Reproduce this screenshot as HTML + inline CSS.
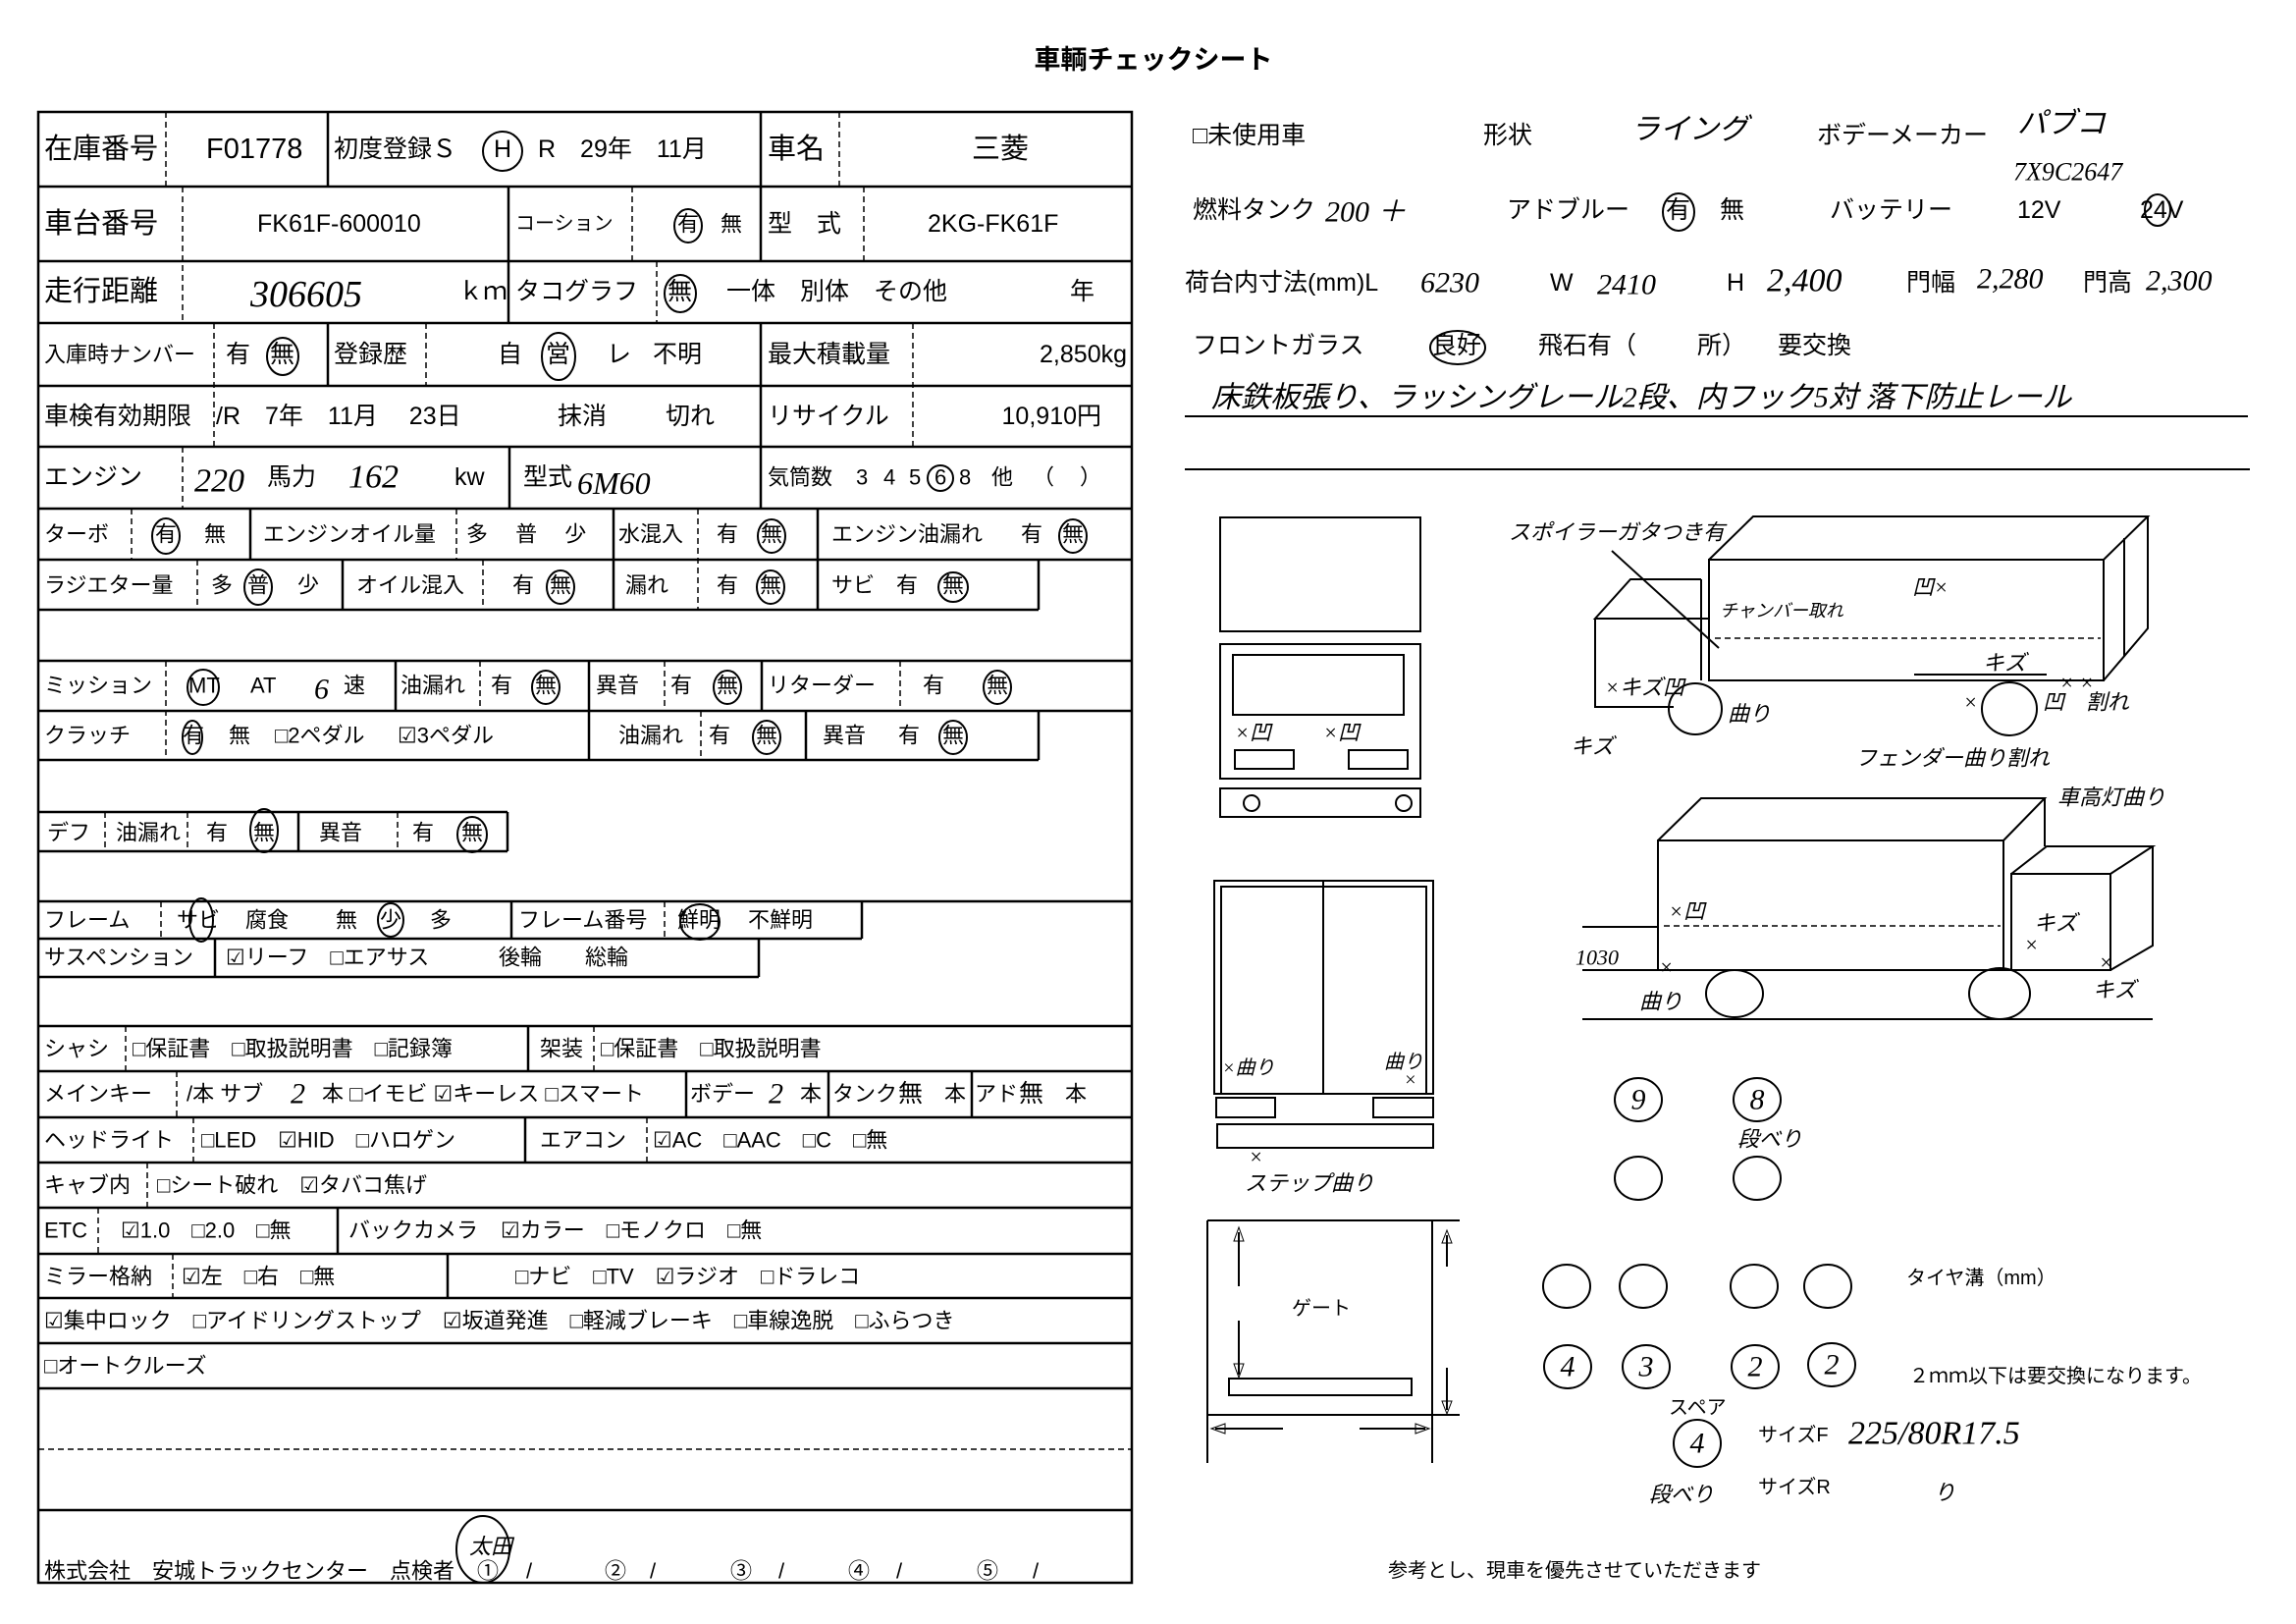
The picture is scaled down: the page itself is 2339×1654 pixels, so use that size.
<!DOCTYPE html>
<html><head><meta charset="utf-8"><style>
html,body{margin:0;padding:0;background:#fff;}
svg{display:block}
text{font-family:"Liberation Sans","Noto Sans CJK JP",sans-serif;font-size:22px;dominant-baseline:central;fill:#000}
.b{font-size:29px}.m{font-size:25px}.s{font-size:20px}
.h{font-family:"Liberation Serif","Noto Sans CJK JP",serif;font-style:italic;font-size:30px}
.hs{font-family:"Liberation Serif","Noto Sans CJK JP",serif;font-style:italic;font-size:22px}
.t{font-weight:bold;font-size:27px}
line,rect,polyline,polygon,circle,ellipse,path{stroke:#000;fill:none}
.L{stroke-width:2.5}.d{stroke-width:1.5;stroke-dasharray:6 4}.c{stroke-width:2}
</style></head><body>
<svg width="2339" height="1654" viewBox="0 0 2339 1654" xmlns="http://www.w3.org/2000/svg">
<text x="1175" y="61" class="t" text-anchor="middle">車輌チェックシート</text>

<rect x="39" y="114" width="1114" height="1498" class="L"/>
<g class="L">
<line x1="39" y1="190" x2="1153" y2="190"/>
<line x1="39" y1="266" x2="1153" y2="266"/>
<line x1="39" y1="329" x2="1153" y2="329"/>
<line x1="39" y1="393" x2="1153" y2="393"/>
<line x1="39" y1="455" x2="1153" y2="455"/>
<line x1="39" y1="518" x2="1153" y2="518"/>
<line x1="39" y1="570" x2="1153" y2="570"/>
<line x1="39" y1="621" x2="1058" y2="621"/>
<line x1="1058" y1="570" x2="1058" y2="621"/>
<line x1="39" y1="673" x2="1153" y2="673"/>
<line x1="39" y1="724" x2="1153" y2="724"/>
<line x1="39" y1="774" x2="1058" y2="774"/>
<line x1="1058" y1="724" x2="1058" y2="774"/>
<line x1="39" y1="827" x2="517" y2="827"/>
<line x1="39" y1="867" x2="517" y2="867"/>
<line x1="517" y1="827" x2="517" y2="867"/>
<line x1="39" y1="918" x2="1153" y2="918"/>
<line x1="39" y1="956" x2="878" y2="956"/>
<line x1="878" y1="918" x2="878" y2="956"/>
<line x1="39" y1="995" x2="773" y2="995"/>
<line x1="773" y1="956" x2="773" y2="995"/>
<line x1="39" y1="1045" x2="1153" y2="1045"/>
<line x1="39" y1="1091" x2="1153" y2="1091"/>
<line x1="39" y1="1138" x2="1153" y2="1138"/>
<line x1="39" y1="1184" x2="1153" y2="1184"/>
<line x1="39" y1="1230" x2="1153" y2="1230"/>
<line x1="39" y1="1277" x2="1153" y2="1277"/>
<line x1="39" y1="1322" x2="1153" y2="1322"/>
<line x1="39" y1="1368" x2="1153" y2="1368"/>
<line x1="39" y1="1414" x2="1153" y2="1414"/>
<line x1="39" y1="1538" x2="1153" y2="1538"/>
</g>
<line x1="39" y1="1476" x2="1153" y2="1476" class="d"/>
<g class="L">
<line x1="334" y1="114" x2="334" y2="190"/><line x1="775" y1="114" x2="775" y2="190"/>
<line x1="518" y1="190" x2="518" y2="329"/><line x1="775" y1="190" x2="775" y2="266"/>
<line x1="334" y1="329" x2="334" y2="393"/><line x1="775" y1="329" x2="775" y2="518"/>
<line x1="519" y1="455" x2="519" y2="518"/>
<line x1="255" y1="518" x2="255" y2="570"/><line x1="625" y1="518" x2="625" y2="621"/><line x1="833" y1="518" x2="833" y2="621"/>
<line x1="349" y1="570" x2="349" y2="621"/>
<line x1="403" y1="673" x2="403" y2="724"/><line x1="600" y1="673" x2="600" y2="774"/><line x1="776" y1="673" x2="776" y2="724"/>
<line x1="821" y1="724" x2="821" y2="774"/>
<line x1="304" y1="827" x2="304" y2="867"/>
<line x1="521" y1="918" x2="521" y2="956"/><line x1="219" y1="956" x2="219" y2="995"/>
<line x1="538" y1="1045" x2="538" y2="1091"/>
<line x1="699" y1="1091" x2="699" y2="1138"/><line x1="844" y1="1091" x2="844" y2="1138"/><line x1="990" y1="1091" x2="990" y2="1138"/>
<line x1="535" y1="1138" x2="535" y2="1184"/>
<line x1="344" y1="1230" x2="344" y2="1277"/><line x1="456" y1="1277" x2="456" y2="1322"/>
</g>
<g class="d">
<line x1="169" y1="114" x2="169" y2="190"/><line x1="855" y1="114" x2="855" y2="190"/>
<line x1="186" y1="190" x2="186" y2="329"/><line x1="644" y1="190" x2="644" y2="266"/><line x1="880" y1="190" x2="880" y2="266"/>
<line x1="669" y1="266" x2="669" y2="329"/>
<line x1="218" y1="329" x2="218" y2="455"/><line x1="434" y1="329" x2="434" y2="393"/><line x1="930" y1="329" x2="930" y2="455"/>
<line x1="186" y1="455" x2="186" y2="518"/>
<line x1="134" y1="518" x2="134" y2="570"/><line x1="465" y1="518" x2="465" y2="570"/><line x1="711" y1="518" x2="711" y2="621"/>
<line x1="201" y1="570" x2="201" y2="621"/><line x1="492" y1="570" x2="492" y2="621"/>
<line x1="169" y1="673" x2="169" y2="774"/><line x1="489" y1="673" x2="489" y2="724"/><line x1="677" y1="673" x2="677" y2="724"/><line x1="917" y1="673" x2="917" y2="724"/>
<line x1="714" y1="724" x2="714" y2="774"/>
<line x1="107" y1="827" x2="107" y2="867"/><line x1="191" y1="827" x2="191" y2="867"/><line x1="405" y1="827" x2="405" y2="867"/>
<line x1="164" y1="918" x2="164" y2="956"/><line x1="677" y1="918" x2="677" y2="956"/>
<line x1="128" y1="1045" x2="128" y2="1091"/><line x1="605" y1="1045" x2="605" y2="1091"/>
<line x1="180" y1="1091" x2="180" y2="1138"/>
<line x1="197" y1="1138" x2="197" y2="1184"/><line x1="659" y1="1138" x2="659" y2="1184"/>
<line x1="150" y1="1184" x2="150" y2="1230"/>
<line x1="100" y1="1230" x2="100" y2="1277"/>
<line x1="176" y1="1277" x2="176" y2="1322"/>
</g>

<text x="45" y="152" class="b">在庫番号</text>
<text x="210" y="152" class="b">F01778</text>
<text x="340" y="152" class="m">初度登録Ｓ</text>
<circle cx="512" cy="154" r="20" class="c"/><text x="512" y="152" class="m" text-anchor="middle">H</text>
<text x="548" y="152" class="m">R　29年　11月</text>
<text x="782" y="152" class="b">車名</text>
<text x="990" y="152" class="b">三菱</text>
<text x="45" y="228" class="b">車台番号</text>
<text x="262" y="228" class="m">FK61F-600010</text>
<text x="525" y="228" class="s">コーション</text>
<text x="690" y="228">有</text><ellipse cx="701" cy="230" rx="14" ry="17" class="c"/>
<text x="734" y="228">無</text>
<text x="782" y="228" class="m">型　式</text>
<text x="945" y="228" class="m">2KG-FK61F</text>
<text x="45" y="297" class="b">走行距離</text>
<text x="255" y="300" class="h" style="font-size:38px">306605</text>
<text x="467" y="297" class="m">ｋｍ</text>
<text x="525" y="297" class="m">タコグラフ</text>
<text x="680" y="297" class="m">無</text><ellipse cx="693" cy="299" rx="16" ry="19" class="c"/>
<text x="740" y="297" class="m">一体　別体　その他</text>
<text x="1090" y="297" class="m">年</text>
<text x="45" y="361">入庫時ナンバー</text>
<text x="230" y="361" class="m">有</text>
<text x="275" y="361" class="m">無</text><ellipse cx="288" cy="363" rx="16" ry="19" class="c"/>
<text x="340" y="361" class="m">登録歴</text>
<text x="507" y="361" class="m">自</text>
<text x="556" y="361" class="m">営</text><ellipse cx="569" cy="363" rx="17" ry="24" class="c"/>
<text x="618" y="361" class="m">レ</text>
<text x="665" y="361" class="m">不明</text>
<text x="782" y="361" class="m">最大積載量</text>
<text x="1148" y="361" class="m" text-anchor="end">2,850kg</text>
<text x="45" y="424" class="m">車検有効期限</text>
<text x="220" y="424" class="m">/R　7年　11月　 23日</text>
<text x="568" y="424" class="m">抹消</text>
<text x="678" y="424" class="m">切れ</text>
<text x="782" y="424" class="m">リサイクル</text>
<text x="1122" y="424" class="m" text-anchor="end">10,910円</text>
<text x="45" y="486" class="m">エンジン</text>
<text x="198" y="490" class="h" style="font-size:34px">220</text>
<text x="272" y="486" class="m">馬力</text>
<text x="355" y="486" class="h" style="font-size:34px">162</text>
<text x="463" y="486" class="m">kw</text>
<text x="533" y="486" class="m">型式</text>
<text x="588" y="492" class="h" style="font-size:32px">6M60</text>
<text x="782" y="486">気筒数</text>
<text x="872" y="486">3</text><text x="900" y="486">4</text><text x="926" y="486">5</text>
<text x="952" y="486">6</text><circle cx="958" cy="487" r="13" class="c"/>
<text x="977" y="486">8</text><text x="1010" y="486">他</text>
<text x="1052" y="486">（</text><text x="1100" y="486">）</text>
<text x="45" y="544">ターボ</text>
<text x="158" y="544">有</text><ellipse cx="169" cy="546" rx="14" ry="18" class="c"/>
<text x="208" y="544">無</text>
<text x="268" y="544">エンジンオイル量</text>
<text x="475" y="544">多　 普　 少</text>
<text x="630" y="544">水混入</text>
<text x="730" y="544">有</text>
<text x="775" y="544">無</text><ellipse cx="786" cy="546" rx="14" ry="17" class="c"/>
<text x="847" y="544">エンジン油漏れ</text>
<text x="1040" y="544">有</text>
<text x="1082" y="544">無</text><ellipse cx="1093" cy="546" rx="14" ry="17" class="c"/>
<text x="45" y="596">ラジエター量</text>
<text x="215" y="596">多</text>
<text x="252" y="596">普</text><ellipse cx="263" cy="598" rx="14" ry="18" class="c"/>
<text x="303" y="596">少</text>
<text x="363" y="596">オイル混入</text>
<text x="522" y="596">有</text>
<text x="560" y="596">無</text><ellipse cx="571" cy="598" rx="14" ry="17" class="c"/>
<text x="637" y="596">漏れ</text>
<text x="730" y="596">有</text>
<text x="774" y="596">無</text><ellipse cx="785" cy="598" rx="14" ry="17" class="c"/>
<text x="847" y="596">サビ</text>
<text x="913" y="596">有</text>
<text x="960" y="596">無</text><ellipse cx="971" cy="598" rx="15" ry="15" class="c"/>
<text x="45" y="698">ミッション</text>
<text x="192" y="698">MT</text><ellipse cx="207" cy="700" rx="16" ry="18" class="c"/>
<text x="255" y="698">AT</text>
<text x="320" y="702" class="h">6</text>
<text x="350" y="698">速</text>
<text x="408" y="698">油漏れ</text>
<text x="500" y="698">有</text>
<text x="545" y="698">無</text><ellipse cx="556" cy="700" rx="14" ry="17" class="c"/>
<text x="607" y="698">異音</text>
<text x="683" y="698">有</text>
<text x="730" y="698">無</text><ellipse cx="741" cy="700" rx="14" ry="17" class="c"/>
<text x="782" y="698">リターダー</text>
<text x="940" y="698">有</text>
<text x="1005" y="698">無</text><ellipse cx="1016" cy="700" rx="14" ry="17" class="c"/>
<text x="45" y="749">クラッチ</text>
<text x="186" y="749">有</text><ellipse cx="196" cy="751" rx="10" ry="17" class="c"/>
<text x="233" y="749">無</text>
<text x="280" y="749">□2ペダル</text>
<text x="405" y="749">☑3ペダル</text>
<text x="630" y="749">油漏れ</text>
<text x="722" y="749">有</text>
<text x="770" y="749">無</text><ellipse cx="781" cy="751" rx="14" ry="17" class="c"/>
<text x="838" y="749">異音</text>
<text x="915" y="749">有</text>
<text x="960" y="749">無</text><ellipse cx="971" cy="751" rx="14" ry="17" class="c"/>
<text x="48" y="848">デフ</text>
<text x="118" y="848">油漏れ</text>
<text x="210" y="848">有</text>
<text x="258" y="848">無</text><ellipse cx="269" cy="846" rx="14" ry="22" class="c"/>
<text x="325" y="848">異音</text>
<text x="420" y="848">有</text>
<text x="470" y="848">無</text><ellipse cx="481" cy="850" rx="15" ry="18" class="c"/>
<text x="45" y="937">フレーム</text>
<text x="180" y="937">サビ</text><ellipse cx="205" cy="937" rx="12" ry="22" class="c"/>
<text x="250" y="937">腐食</text>
<text x="342" y="937">無</text>
<text x="387" y="937">少</text><ellipse cx="398" cy="937" rx="13" ry="17" class="c"/>
<text x="438" y="937">多</text>
<text x="528" y="937">フレーム番号</text>
<text x="690" y="937">鮮明</text><ellipse cx="713" cy="939" rx="20" ry="18" class="c"/>
<text x="762" y="937">不鮮明</text>
<text x="45" y="975">サスペンション</text>
<text x="230" y="975">☑リーフ　□エアサス</text>
<text x="508" y="975">後輪　　総輪</text>
<text x="45" y="1068">シャシ</text>
<text x="135" y="1068">□保証書　□取扱説明書　□記録簿</text>
<text x="550" y="1068">架装</text>
<text x="612" y="1068">□保証書　□取扱説明書</text>
<text x="45" y="1114">メインキー</text>
<text x="190" y="1114">/本 サブ</text>
<text x="296" y="1114" class="h">2</text>
<text x="328" y="1114">本 □イモビ ☑キーレス □スマート</text>
<text x="703" y="1114">ボデー</text>
<text x="783" y="1114" class="h">2</text>
<text x="815" y="1114">本</text>
<text x="848" y="1114">タンク</text>
<text x="915" y="1114" class="m">無</text>
<text x="962" y="1114">本</text>
<text x="993" y="1114">アド</text>
<text x="1038" y="1114" class="m">無</text>
<text x="1085" y="1114">本</text>
<text x="45" y="1161">ヘッドライト</text>
<text x="205" y="1161">□LED　☑HID　□ハロゲン</text>
<text x="550" y="1161">エアコン</text>
<text x="665" y="1161">☑AC　□AAC　□C　□無</text>
<text x="45" y="1207">キャブ内</text>
<text x="160" y="1207">□シート破れ　☑タバコ焦げ</text>
<text x="45" y="1253">ETC</text>
<text x="123" y="1253">☑1.0　□2.0　□無</text>
<text x="355" y="1253">バックカメラ</text>
<text x="510" y="1253">☑カラー　□モノクロ　□無</text>
<text x="45" y="1300">ミラー格納</text>
<text x="185" y="1300">☑左　□右　□無</text>
<text x="525" y="1300">□ナビ　□TV　☑ラジオ　□ドラレコ</text>
<text x="45" y="1345">☑集中ロック　□アイドリングストップ　☑坂道発進　□軽減ブレーキ　□車線逸脱　□ふらつき</text>
<text x="45" y="1391">□オートクルーズ</text>
<text x="45" y="1600">株式会社　安城トラックセンター　点検者</text>
<text x="486" y="1600">①</text><text x="536" y="1600">/</text>
<text x="616" y="1600">②</text><text x="662" y="1600">/</text>
<text x="744" y="1600">③</text><text x="793" y="1600">/</text>
<text x="864" y="1600">④</text><text x="913" y="1600">/</text>
<text x="995" y="1600">⑤</text><text x="1052" y="1600">/</text>
<ellipse cx="492" cy="1578" rx="27" ry="34" class="c"/>
<text x="478" y="1575" class="hs">太田</text>

<text x="1215" y="138" class="m">□未使用車</text>
<text x="1511" y="138" class="m">形状</text>
<text x="1661" y="132" class="h">ライング</text>
<text x="1851" y="138" class="m">ボデーメーカー</text>
<text x="2055" y="126" class="h">パブコ</text>
<text x="2051" y="175" class="h" style="font-size:26px">7X9C2647</text>
<text x="1215" y="214" class="m">燃料タンク</text>
<text x="1350" y="216" class="h">200 ＋</text>
<text x="1535" y="214" class="m">アドブルー</text>
<text x="1697" y="214" class="m">有</text><ellipse cx="1710" cy="216" rx="16" ry="19" class="c"/>
<text x="1752" y="214" class="m">無</text>
<text x="1864" y="214" class="m">バッテリー</text>
<text x="2055" y="214" class="m">12V</text>
<text x="2180" y="214" class="m">24V</text><ellipse cx="2198" cy="214" rx="13" ry="16" class="c"/>
<text x="1207" y="288" class="m">荷台内寸法(mm)L</text>
<text x="1447" y="288" class="h">6230</text>
<text x="1579" y="288" class="m">W</text>
<text x="1627" y="290" class="h">2410</text>
<text x="1759" y="288" class="m">H</text>
<text x="1800" y="286" class="h" style="font-size:34px">2,400</text>
<text x="1942" y="288" class="m">門幅</text>
<text x="2014" y="284" class="h">2,280</text>
<text x="2122" y="288" class="m">門高</text>
<text x="2186" y="286" class="h">2,300</text>
<text x="1215" y="352" class="m">フロントガラス</text>
<text x="1459" y="352" class="m">良好</text><ellipse cx="1485" cy="354" rx="28" ry="17" class="c"/>
<text x="1567" y="352" class="m">飛石有（</text>
<text x="1729" y="352" class="m">所）</text>
<text x="1811" y="352" class="m">要交換</text>
<text x="1234" y="405" class="h" style="font-size:30px">床鉄板張り、ラッシングレール2段、内フック5対 落下防止レール</text>
<line x1="1207" y1="424" x2="2290" y2="424" class="c"/>
<line x1="1207" y1="478" x2="2292" y2="478" class="c"/>

<g class="c">
<rect x="1243" y="527" width="204" height="116"/>
<rect x="1243" y="656" width="204" height="137"/>
<rect x="1256" y="667" width="174" height="61"/>
<rect x="1258" y="764" width="60" height="19"/>
<rect x="1374" y="764" width="60" height="19"/>
<rect x="1243" y="803" width="204" height="29"/>
<circle cx="1275" cy="818" r="8"/><circle cx="1430" cy="818" r="8"/>
</g>
<text x="1258" y="746" class="hs">×凹</text>
<text x="1348" y="746" class="hs">×凹</text>

<g class="c">
<polygon points="1741,570 2143,570 2143,693 1741,693"/>
<polyline points="1741,570 1786,526 2188,526 2143,570"/>
<polyline points="2188,526 2188,640 2143,693"/>
<line x1="2164" y1="548" x2="2164" y2="668"/>
<polyline points="1733,590 1661,590 1625,630 1741,630"/>
<polyline points="1625,630 1625,720 1705,720"/>
<line x1="1733" y1="590" x2="1733" y2="693"/>
<ellipse cx="1727" cy="722" rx="27" ry="26"/>
<ellipse cx="2047" cy="722" rx="28" ry="27"/>
<line x1="1642" y1="561" x2="1751" y2="660"/>
<line x1="1950" y1="687" x2="2085" y2="687"/>
</g>
<line x1="1747" y1="650" x2="2140" y2="650" class="d"/>
<text x="1537" y="542" class="hs">スポイラーガタつき有</text>
<text x="1752" y="622" class="hs" style="font-size:18px">チャンバー取れ</text>
<text x="1948" y="598" class="hs">凹×</text>
<text x="2020" y="675" class="hs">キズ</text>
<text x="2098" y="695" class="hs">× ×</text>
<text x="1635" y="700" class="hs">×キズ凹</text>
<text x="1760" y="727" class="hs">曲り</text>
<text x="1600" y="760" class="hs">キズ</text>
<text x="2000" y="715" class="hs">×　　　凹　割れ</text>
<text x="1890" y="772" class="hs">フェンダー曲り割れ</text>
<text x="2096" y="812" class="hs">車高灯曲り</text>

<g class="c">
<rect x="1689" y="856" width="352" height="132"/>
<polyline points="1689,856 1733,813 2083,813 2041,856"/>
<line x1="2083" y1="813" x2="2083" y2="862"/>
<rect x="2049" y="890" width="101" height="98"/>
<polyline points="2049,890 2085,862 2193,862 2150,890"/>
<polyline points="2193,862 2193,963 2150,988"/>
<line x1="1612" y1="944" x2="1689" y2="944"/>
<line x1="1612" y1="988" x2="2150" y2="988"/>
<line x1="1612" y1="1038" x2="2193" y2="1038"/>
<ellipse cx="1767" cy="1012" rx="29" ry="24"/>
<ellipse cx="2037" cy="1012" rx="31" ry="26"/>
</g>
<line x1="1695" y1="943" x2="2038" y2="943" class="d"/>
<text x="1700" y="928" class="hs">×凹</text>
<text x="1605" y="975" class="hs">1030</text>
<text x="1690" y="985" class="hs">×</text>
<text x="1670" y="1020" class="hs">曲り</text>
<text x="2072" y="940" class="hs">キズ</text>
<text x="2062" y="962" class="hs">×</text>
<text x="2138" y="980" class="hs">×</text>
<text x="2132" y="1008" class="hs">キズ</text>

<g class="c">
<rect x="1237" y="897" width="223" height="217"/>
<rect x="1244" y="903" width="209" height="211"/>
<line x1="1348" y1="897" x2="1348" y2="1114"/>
<rect x="1239" y="1118" width="60" height="20"/>
<rect x="1399" y="1118" width="61" height="20"/>
<rect x="1240" y="1145" width="220" height="24"/>
</g>
<text x="1245" y="1088" class="hs" style="font-size:20px">×曲り</text>
<text x="1410" y="1082" class="hs" style="font-size:20px">曲り</text>
<text x="1430" y="1100" class="hs" style="font-size:20px">×</text>
<text x="1272" y="1178" class="hs">×</text>
<text x="1268" y="1205" class="hs">ステップ曲り</text>

<g class="c">
<line x1="1230" y1="1243" x2="1487" y2="1243"/>
<line x1="1230" y1="1243" x2="1230" y2="1490"/>
<line x1="1459" y1="1243" x2="1459" y2="1490"/>
<line x1="1230" y1="1441" x2="1487" y2="1441"/>
<line x1="1262" y1="1255" x2="1262" y2="1310"/>
<line x1="1262" y1="1345" x2="1262" y2="1400"/>
<rect x="1252" y="1404" width="186" height="17"/>
<line x1="1474" y1="1258" x2="1474" y2="1290"/>
<line x1="1474" y1="1393" x2="1474" y2="1436"/>
<line x1="1238" y1="1455" x2="1307" y2="1455"/>
<line x1="1385" y1="1455" x2="1452" y2="1455"/>
</g>
<g stroke="none">
<polygon points="1262,1250 1257,1264 1267,1264" fill="#000" stroke="none"/>
<polygon points="1262,1403 1257,1389 1267,1389" fill="#000" stroke="none"/>
<polygon points="1474,1253 1469,1266 1479,1266" fill="#000" stroke="none"/>
<polygon points="1474,1440 1469,1427 1479,1427" fill="#000" stroke="none"/>
<polygon points="1234,1455 1248,1450 1248,1460" fill="#000" stroke="none"/>
<polygon points="1456,1455 1442,1450 1442,1460" fill="#000" stroke="none"/>
</g>
<text x="1316" y="1333" class="s">ゲート</text>

<g class="c">
<ellipse cx="1669" cy="1120" rx="24" ry="22"/>
<ellipse cx="1790" cy="1120" rx="24" ry="22"/>
<ellipse cx="1669" cy="1200" rx="24" ry="22"/>
<ellipse cx="1790" cy="1200" rx="24" ry="22"/>
<ellipse cx="1596" cy="1310" rx="24" ry="22"/>
<ellipse cx="1674" cy="1310" rx="24" ry="22"/>
<ellipse cx="1787" cy="1310" rx="24" ry="22"/>
<ellipse cx="1862" cy="1310" rx="24" ry="22"/>
<ellipse cx="1597" cy="1392" rx="24" ry="22"/>
<ellipse cx="1677" cy="1392" rx="24" ry="22"/>
<ellipse cx="1788" cy="1392" rx="24" ry="22"/>
<ellipse cx="1866" cy="1390" rx="24" ry="22"/>
<ellipse cx="1729" cy="1470" rx="24" ry="24"/>
</g>
<text x="1669" y="1120" class="h" text-anchor="middle">9</text>
<text x="1790" y="1120" class="h" text-anchor="middle">8</text>
<text x="1770" y="1160" class="hs">段べり</text>
<text x="1597" y="1392" class="h" text-anchor="middle">4</text>
<text x="1677" y="1392" class="h" text-anchor="middle">3</text>
<text x="1788" y="1392" class="h" text-anchor="middle">2</text>
<text x="1866" y="1390" class="h" text-anchor="middle">2</text>
<text x="1729" y="1470" class="h" text-anchor="middle">4</text>
<text x="1942" y="1302" class="s">タイヤ溝（mm）</text>
<text x="1945" y="1402" class="s">２ｍｍ以下は要交換になります。</text>
<text x="1700" y="1434" class="s">スペア</text>
<text x="1791" y="1462" class="s">サイズF</text>
<text x="1883" y="1460" class="h" style="font-size:34px">225/80R17.5</text>
<text x="1680" y="1522" class="hs">段べり</text>
<text x="1791" y="1515" class="s">サイズR</text>
<text x="1970" y="1520" class="hs">り</text>
<text x="1414" y="1600" class="s">参考とし、現車を優先させていただきます</text>
</svg>
</body></html>
